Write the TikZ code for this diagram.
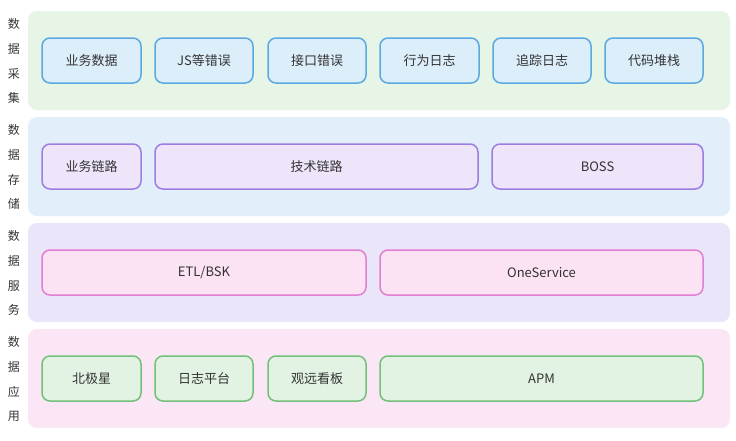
\documentclass[tikz,border=0pt]{standalone}
\usepackage{fontspec}
\setmainfont{Noto Sans CJK SC}
\definecolor{bandA}{HTML}{E6F5E6}
\definecolor{bandB}{HTML}{E2EFFB}
\definecolor{bandC}{HTML}{EAE5F8}
\definecolor{bandD}{HTML}{FBE6F5}
\definecolor{boxAf}{HTML}{DDEEFB}
\definecolor{boxAd}{HTML}{5AA9E2}
\definecolor{boxBf}{HTML}{EEE5FA}
\definecolor{boxBd}{HTML}{9C7EE0}
\definecolor{boxCf}{HTML}{FBE3F3}
\definecolor{boxCd}{HTML}{E27FD2}
\definecolor{boxDf}{HTML}{E2F3E3}
\definecolor{boxDd}{HTML}{72C07A}
\definecolor{txt}{HTML}{333333}
\tikzset{
  band/.style={rounded corners=9pt},
  cell/.style={rounded corners=8pt, line width=1.5pt, text=txt, font=\fontsize{13}{15}\selectfont},
  sidelab/.style={text=txt, font=\fontsize{12}{14}\selectfont, inner sep=0pt},
}
\newcommand{\cellbox}[6]{% name, x1, y1, x2, y2, text
  \draw[cell] (#2,#3) rectangle (#4,#5);
  \node[text=txt, font=\fontsize{13}{15}\selectfont] (#1) at ({(#2+#4)/2},{(#3+#5)/2}) {#6};
}
\begin{document}
\begin{tikzpicture}[x=1pt,y=-1pt]
\useasboundingbox[fill=white] (0,0) rectangle (736,440);
% bands
\fill[band, bandA] (28,11) rectangle (730,110);
\fill[band, bandB] (28,117) rectangle (730,216);
\fill[band, bandC] (28,223) rectangle (730,322);
\fill[band, bandD] (28,329) rectangle (730,428);
% side labels
\foreach \t/\y in {数/24,据/49,采/74,集/98, 数/130,据/155,存/180,储/204, 数/236,据/261,服/286,务/310, 数/342,据/367,应/392,用/416}
  \node[sidelab] at (14,\y) {\t};
% row 1
\begin{scope}[cell/.append style={draw=boxAd, fill=boxAf}]
\cellbox{a1}{42}{38}{141}{83}{业务数据}
\cellbox{a2}{155}{38}{253}{83}{JS等错误}
\cellbox{a3}{268}{38}{366}{83}{接口错误}
\cellbox{a4}{380}{38}{479}{83}{行为日志}
\cellbox{a5}{493}{38}{591}{83}{追踪日志}
\cellbox{a6}{605}{38}{703}{83}{代码堆栈}
\end{scope}
% row 2
\begin{scope}[cell/.append style={draw=boxBd, fill=boxBf}]
\cellbox{b1}{42}{144}{141}{189}{业务链路}
\cellbox{b2}{155}{144}{478}{189}{技术链路}
\cellbox{b3}{492}{144}{703}{189}{BOSS}
\end{scope}
% row 3
\begin{scope}[cell/.append style={draw=boxCd, fill=boxCf}]
\cellbox{c1}{42}{250}{366}{295}{ETL/BSK}
\cellbox{c2}{380}{250}{703}{295}{OneService}
\end{scope}
% row 4
\begin{scope}[cell/.append style={draw=boxDd, fill=boxDf}]
\cellbox{d1}{42}{356}{141}{401}{北极星}
\cellbox{d2}{155}{356}{253}{401}{日志平台}
\cellbox{d3}{268}{356}{366}{401}{观远看板}
\cellbox{d4}{380}{356}{703}{401}{APM}
\end{scope}
\end{tikzpicture}
\end{document}
